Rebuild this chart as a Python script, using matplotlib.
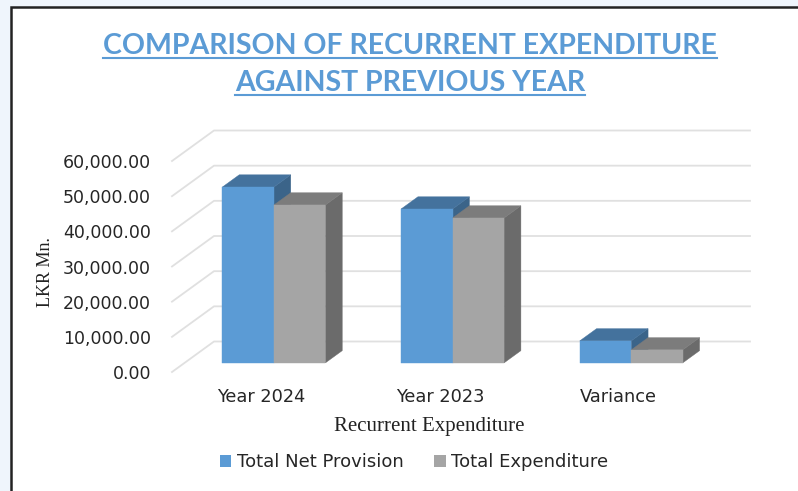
#!/usr/bin/env python
# -*- coding: utf-8 -*-

import matplotlib
matplotlib.use('Agg')
import matplotlib.pyplot as plt
from matplotlib.patches import Polygon, Rectangle
from matplotlib.lines import Line2D

categories = ['Year 2024', 'Year 2023', 'Variance']
net_provision = [50000, 43750, 6250]
total_expenditure = [44900, 41200, 3700]
y_ticks = [0, 10000, 20000, 30000, 40000, 50000, 60000]

W, H = 798, 491
BLUE = ['#5B9BD5', '#44729D', '#3B6489']
GREY = ['#A5A5A5', '#7C7C7C', '#6B6B6B']

fig = plt.figure(figsize=(W/100, H/100), dpi=100, facecolor='#EFF5FC')


def fx(px):
    return px/W


def fy(py):
    return 1 - py/H


# white sheet with the dark frame, runs off the right and bottom edges
fig.add_artist(Rectangle((fx(11), -0.05), 1, fy(7)+0.05, transform=fig.transFigure, facecolor='white',
                         edgecolor='#222222', lw=1.8, zorder=-1))

# plot area, front plane of the 3D box
left, right, top, bottom = 172, 708, 161, 372
ax = fig.add_axes([fx(left), fy(bottom), fx(right-left), (bottom-top)/H])
ax.set_xlim(0, 3)
ax.set_ylim(0, 60000)
ax.patch.set_visible(False)
for s in ax.spines.values():
    s.set_visible(False)

# depth of the box, in axis units
DX = 42/(right-left)*3
DY = 30.5/(bottom-top)*60000


def depth(x, y, d):
    return (x + d*DX, y + d*DY)


# gridlines: side wall + back wall
for t in y_ticks:
    ax.plot([0, DX, 3+DX], [t, t+DY, t+DY], color='#E0E0E0', lw=1.3, clip_on=False, zorder=1)

bar_w = 51.5/(right-left)*3
d0, d1 = 0.3, 0.7


def bar3d(x0, value, colors, z):
    x1 = x0 + bar_w
    front = [depth(x0, 0, d0), depth(x1, 0, d0), depth(x1, value, d0), depth(x0, value, d0)]
    side = [depth(x1, 0, d0), depth(x1, 0, d1), depth(x1, value, d1), depth(x1, value, d0)]
    roof = [depth(x0, value, d0), depth(x1, value, d0), depth(x1, value, d1), depth(x0, value, d1)]
    for pts, c in ((side, colors[2]), (roof, colors[1]), (front, colors[0])):
        ax.add_patch(Polygon(pts, closed=True, facecolor=c, edgecolor=c, lw=0.3, clip_on=False, zorder=z))


for i in range(len(categories)):
    centre = i + 0.5
    bar3d(centre - bar_w, net_provision[i], BLUE, 3)
    bar3d(centre, total_expenditure[i], GREY, 4)

ax.set_xticks([i + 0.5 for i in range(len(categories))])
ax.set_xticklabels(categories, fontsize=12.8, color='#262626', family='DejaVu Sans')
ax.set_yticks(y_ticks)
ax.set_yticklabels(['{:,.2f}'.format(t) for t in y_ticks], fontsize=12.5, color='#262626', family='DejaVu Sans')
ax.tick_params(axis='x', length=0, pad=11.5)
ax.tick_params(axis='y', length=0, pad=15)

fig.text(fx(46), fy(272), 'LKR Mn.', rotation=90, ha='center', va='center',
         family='Liberation Serif', fontsize=13, color='#222222')
fig.text(fx(429), fy(426), 'Recurrent Expenditure', ha='center', va='center',
         family='Liberation Serif', fontsize=15, color='#222222')

# title, underlined by hand
title_lines = ['COMPARISON OF RECURRENT EXPENDITURE', 'AGAINST PREVIOUS YEAR']
title_y = [46, 83]
under_y = [58, 94.5]
for line, ty, uy in zip(title_lines, title_y, under_y):
    t = fig.text(fx(410), fy(ty), line, ha='center', va='center', family='Lato', weight='bold',
                 fontsize=20.5, color=BLUE[0])
    bb = t.get_window_extent(fig.canvas.get_renderer())
    fig.add_artist(Line2D([bb.x0/W, bb.x1/W], [fy(uy), fy(uy)], color=BLUE[0], lw=1.5,
                          transform=fig.transFigure))

handles = [Rectangle((0, 0), 1, 1, facecolor=BLUE[0]), Rectangle((0, 0), 1, 1, facecolor=GREY[0])]
fig.legend(handles, ['Total Net Provision', 'Total Expenditure'], loc='center',
           bbox_to_anchor=(fx(414), fy(462)), ncol=2, frameon=False, prop={'family': 'DejaVu Sans', 'size': 13},
           handlelength=0.65, handleheight=0.65, handletextpad=0.3, columnspacing=1.7, labelcolor='#262626')

fig.savefig('out.png', dpi=100, facecolor=fig.get_facecolor())
